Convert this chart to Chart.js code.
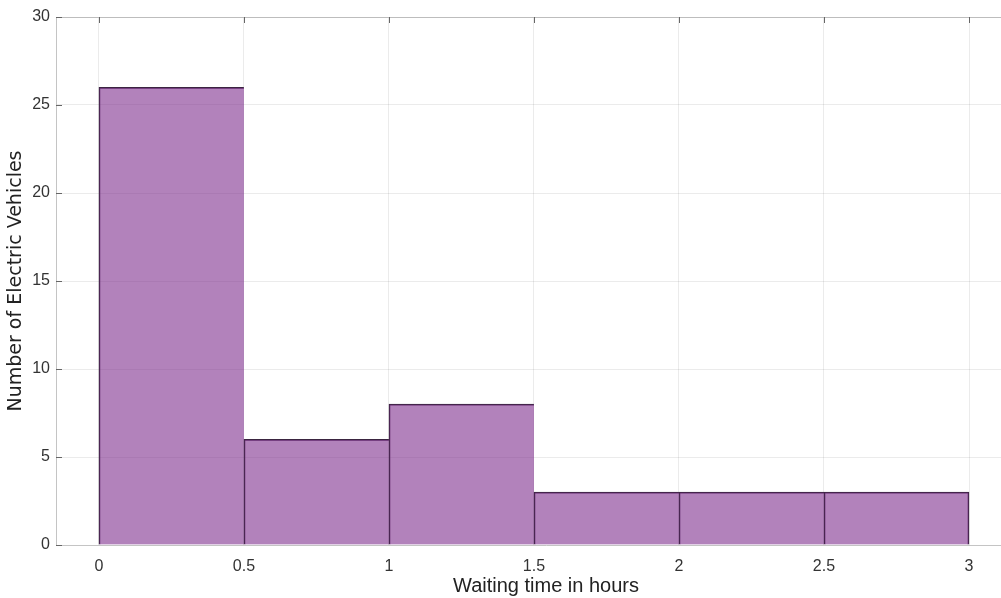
<!DOCTYPE html>
<html>
<head>
<meta charset="utf-8">
<script src="https://cdn.jsdelivr.net/npm/chart.js@4/dist/chart.umd.min.js"></script>
<style>
  html, body { margin: 0; padding: 0; background: #fff; overflow: hidden; }
  #clip { width: 1001px; height: 598px; overflow: hidden; }
  #wrap { width: 1040px; height: 598px; }
</style>
</head>
<body>
<div id="clip"><div id="wrap"><canvas id="histChart"></canvas></div></div>
<script>
// histogram bins (hours) and counts
const binStarts = [0, 0.5, 1, 1.5, 2, 2.5];
const binWidth = 0.5;
const counts = [26, 6, 8, 3, 3, 3];
const xTicks = [0, 0.5, 1, 1.5, 2, 2.5, 3];
const xTickLabels = ['0', '0.5', '1', '1.5', '2', '2.5', '3'];
const yTicks = [0, 5, 10, 15, 20, 25, 30];

const points = binStarts.map((s, i) => ({ x: s + binWidth / 2, y: counts[i] }));

// top box line with inward ticks, like the original figure
const boxPlugin = {
    id: 'box',
    afterDraw(chart) {
        const ctx = chart.ctx;
        const xs = chart.scales.x;
        const ys = chart.scales.y;
        const top = chart.chartArea.top;
        const left = chart.chartArea.left;
        ctx.save();
        ctx.strokeStyle = '#bdbdbd';
        ctx.lineWidth = 1;
        ctx.beginPath();
        ctx.moveTo(left, top + 0.5);
        ctx.lineTo(chart.chartArea.right, top + 0.5);
        ctx.stroke();
        ctx.strokeStyle = '#666';
        ctx.beginPath();
        xTicks.forEach(v => {
            const px = Math.round(xs.getPixelForValue(v)) + 0.5;
            ctx.moveTo(px, top);
            ctx.lineTo(px, top + 6);
        });
        yTicks.forEach(v => {
            const py = Math.round(ys.getPixelForValue(v)) + 0.5;
            ctx.moveTo(left, py);
            ctx.lineTo(left + 6, py);
        });
        ctx.stroke();
        ctx.restore();
    }
};

const ctx = document.getElementById('histChart').getContext('2d');
new Chart(ctx, {
    type: 'bar',
    data: {
        datasets: [{
            data: points,
            backgroundColor: 'rgba(126, 47, 142, 0.6)',
            borderColor: '#3a2440',
            // single line between neighbouring bins
            borderWidth: c => ({ left: 1, top: 1, bottom: 0, right: c.dataIndex === counts.length - 1 ? 1 : 0 }),
            barPercentage: 1,
            categoryPercentage: 1,
            grouped: false
        }]
    },
    options: {
        responsive: true,
        maintainAspectRatio: false,
        animation: false,
        layout: { padding: { top: 17, right: 4, left: 0, bottom: 0 } },
        plugins: {
            legend: { display: false },
            tooltip: { enabled: false }
        },
        scales: {
            x: {
                type: 'linear',
                offset: false,
                min: -0.148,
                max: 3.231,
                afterBuildTicks: axis => { axis.ticks = xTicks.map(v => ({ value: v })); },
                afterFit: axis => { axis.height = 53; },
                ticks: {
                    callback: (v, i) => xTickLabels[i],
                    color: '#333',
                    font: { family: 'Liberation Sans', size: 16 },
                    padding: 12,
                    maxRotation: 0
                },
                grid: { color: 'rgba(0,0,0,0.08)', drawTicks: false, offset: false },
                border: { color: '#c4c4c4' },
                title: {
                    display: true,
                    text: 'Waiting time in hours',
                    color: '#222',
                    font: { family: 'Liberation Sans', size: 20 },
                    padding: { top: 0, bottom: 0 }
                }
            },
            y: {
                min: 0,
                max: 30,
                afterBuildTicks: axis => { axis.ticks = yTicks.map(v => ({ value: v })); },
                afterFit: axis => { axis.width = 56; },
                ticks: {
                    color: '#333',
                    font: { family: 'Liberation Sans', size: 16 },
                    padding: 6
                },
                grid: { color: 'rgba(0,0,0,0.08)', drawTicks: false },
                border: { color: '#c4c4c4' },
                title: {
                    display: true,
                    text: 'Number of Electric Vehicles',
                    color: '#222',
                    font: { family: 'DejaVu Sans', size: 19 },
                    padding: { top: 5, bottom: 0 }
                }
            }
        }
    },
    plugins: [boxPlugin]
});
</script>
</body>
</html>
